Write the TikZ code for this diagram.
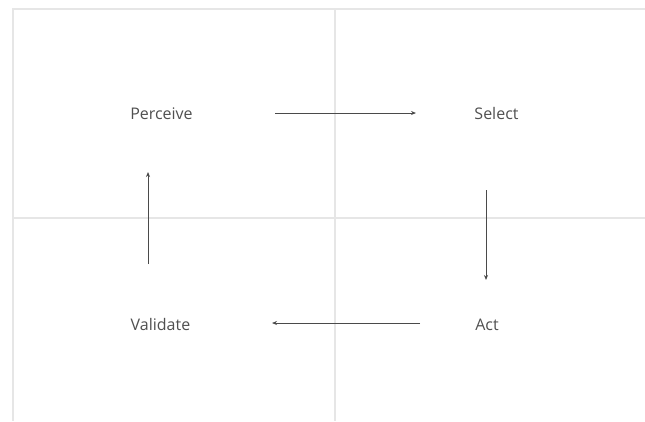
\documentclass[tikz,border=0pt]{standalone}
\usepackage{fontspec}
\setmainfont{Open Sans}
\usetikzlibrary{arrows.meta}
\definecolor{gridgray}{HTML}{E6E6E6}
\definecolor{txtgray}{HTML}{505050}
\definecolor{arrgray}{HTML}{4A4A4A}
\begin{document}
\begin{tikzpicture}[x=1pt,y=-1pt,
  lbl/.style={font=\fontsize{16}{18}\selectfont, text=txtgray, inner sep=0pt, anchor=base},
  gridline/.style={draw=gridgray, line width=1.2pt},
  flow/.style={draw=arrgray, line width=1pt, -{Stealth[length=5pt,width=4pt]}}]
\useasboundingbox (0,0) rectangle (645,421);
\fill[white] (0,0) rectangle (645,421);
% grid
\draw[gridline] (12,9) -- (645,9);
\draw[gridline] (13,9) -- (13,421);
\draw[gridline] (335,9) -- (335,421);
\draw[gridline] (13,218) -- (645,218);
% labels
\node[lbl] (perceive) at (161.5,119.5) {Perceive};
\node[lbl] (select) at (496.5,119.5) {Select};
\node[lbl] (act) at (487,330) {Act};
\node[lbl] (validate) at (160.5,330) {Validate};
% arrow ends
\coordinate (a1s) at (275,113); \coordinate (a1e) at (416,113);
\coordinate (a2s) at (486,190); \coordinate (a2e) at (486,280);
\coordinate (a3s) at (420,323); \coordinate (a3e) at (272,323);
\coordinate (a4s) at (148,264); \coordinate (a4e) at (148,172);
\draw[flow] (a1s) -- (a1e);
\draw[flow] (a2s) -- (a2e);
\draw[flow] (a3s) -- (a3e);
\draw[flow] (a4s) -- (a4e);
\end{tikzpicture}
\end{document}
